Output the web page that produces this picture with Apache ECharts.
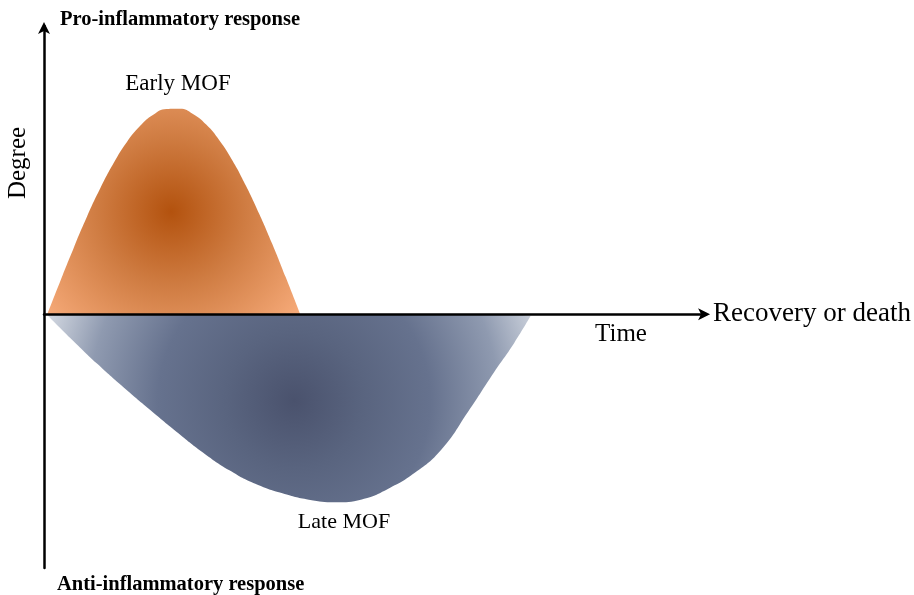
<!DOCTYPE html>
<html>
<head>
<meta charset="utf-8">
<script src="https://cdn.jsdelivr.net/npm/echarts@6/dist/echarts.min.js"></script>
<style>html,body{margin:0;padding:0;background:#fff}#c{width:914px;height:595px}</style>
</head>
<body>
<div id="c"></div>
<script>
// Pro-inflammatory curve (SIRS): time and degree
var sirsTime   = [0.5, 2.5, 4.5, 6.5, 8.5, 10.5, 12.5, 14.5, 16.5, 18.5, 20.5, 22.5, 24.5, 26.5, 28.5, 30.5, 32.5, 34.5, 36.5, 38.7];
var sirsDegree = [0, 1.17, 2.31, 3.39, 4.37, 5.24, 5.97, 6.53, 6.92, 7.12, 7.13, 6.95, 6.58, 6.03, 5.32, 4.46, 3.49, 2.43, 1.29, 0];
// Anti-inflammatory curve (CARS): time and degree
var carsTime   = [0.6, 4, 8, 12, 16, 20, 24, 28, 32, 36, 40, 44, 48, 52, 56, 60, 64, 68, 71, 73.5];
var carsDegree = [-0.05, -0.83, -1.71, -2.53, -3.31, -4.07, -4.79, -5.41, -5.89, -6.21, -6.43, -6.52, -6.42, -6.05, -5.5, -4.7, -3.4, -2.0, -1.0, -0.05];

var serif = "'Liberation Serif', 'DejaVu Serif', serif";

function pairs(xs, ys){ return xs.map(function(x,i){ return [x, ys[i]]; }); }

var chart = echarts.init(document.getElementById('c'));
chart.setOption({
  animation: false,
  backgroundColor: '#fff',
  grid: { left: 44, right: 207, top: 26, bottom: 27 },
  xAxis: {
    type: 'value', min: 0, max: 100, z: 5,
    axisLine: { onZero: true, lineStyle: { color: '#000', width: 2.5 }, symbol: ['none', 'arrow'], symbolSize: [9, 12], symbolOffset: [0, 4] },
    axisTick: { show: false }, axisLabel: { show: false }, splitLine: { show: false },
    name: 'Recovery or death', nameLocation: 'end', nameGap: 7,
    nameTextStyle: { fontFamily: serif, fontSize: 27, color: '#000', verticalAlign: 'middle' }
  },
  yAxis: {
    type: 'value', min: -8.8, max: 10, z: 5,
    axisLine: { onZero: true, lineStyle: { color: '#000', width: 2.5 }, symbol: ['none', 'arrow'], symbolSize: [9, 12], symbolOffset: [0, 4] },
    axisTick: { show: false }, axisLabel: { show: false }, splitLine: { show: false }
  },
  series: [
    {
      type: 'line', data: pairs(sirsTime, sirsDegree), symbol: 'none', smooth: 0.5,
      lineStyle: { width: 0 },
      areaStyle: { opacity: 1, color: { type: 'radial', x: 0.49, y: 0.5, r: 0.8,
        colorStops: [ { offset: 0, color: '#b3520e' }, { offset: 0.45, color: '#cf7c42' }, { offset: 1, color: '#f7ab7a' } ] } }
    },
    {
      type: 'line', data: pairs(carsTime, carsDegree), symbol: 'none', smooth: 0.5,
      lineStyle: { width: 0 },
      areaStyle: { opacity: 1, color: { type: 'radial', x: 0.51, y: 0.46, r: 1.45,
        colorStops: [ { offset: 0, color: '#4a526d' }, { offset: 0.25, color: '#59647f' }, { offset: 0.5, color: '#66728e' }, { offset: 0.75, color: '#8f9ab0' }, { offset: 1, color: '#e2e6ec' } ] } }
    }
  ],
  graphic: [
    { type: 'text', x: 60, y: 20, style: { text: 'Pro-inflammatory response', font: 'bold 20.5px ' + serif, fill: '#000', verticalAlign: 'middle' } },
    { type: 'text', x: 57, y: 585, style: { text: 'Anti-inflammatory response', font: 'bold 20.5px ' + serif, fill: '#000', verticalAlign: 'middle' } },
    { type: 'text', x: 178, y: 84, style: { text: 'Early MOF', font: '23px ' + serif, fill: '#000', align: 'center', verticalAlign: 'middle' } },
    { type: 'text', x: 173, y: 270, style: { text: 'SIRS', font: '25px ' + serif, fill: '#000', align: 'center', verticalAlign: 'middle' } },
    { type: 'text', x: 300, y: 346, style: { text: 'CARS', font: '25px ' + serif, fill: '#000', align: 'center', verticalAlign: 'middle' } },
    { type: 'text', x: 344, y: 522, style: { text: 'Late MOF', font: '22px ' + serif, fill: '#000', align: 'center', verticalAlign: 'middle' } },
    { type: 'text', x: 621, y: 334, style: { text: 'Time', font: '25px ' + serif, fill: '#000', align: 'center', verticalAlign: 'middle' } },
    { type: 'text', x: 18, y: 163, rotation: Math.PI / 2, style: { text: 'Degree', font: '25px ' + serif, fill: '#000', align: 'center', verticalAlign: 'middle' } }
  ]
});
</script>
</body>
</html>
